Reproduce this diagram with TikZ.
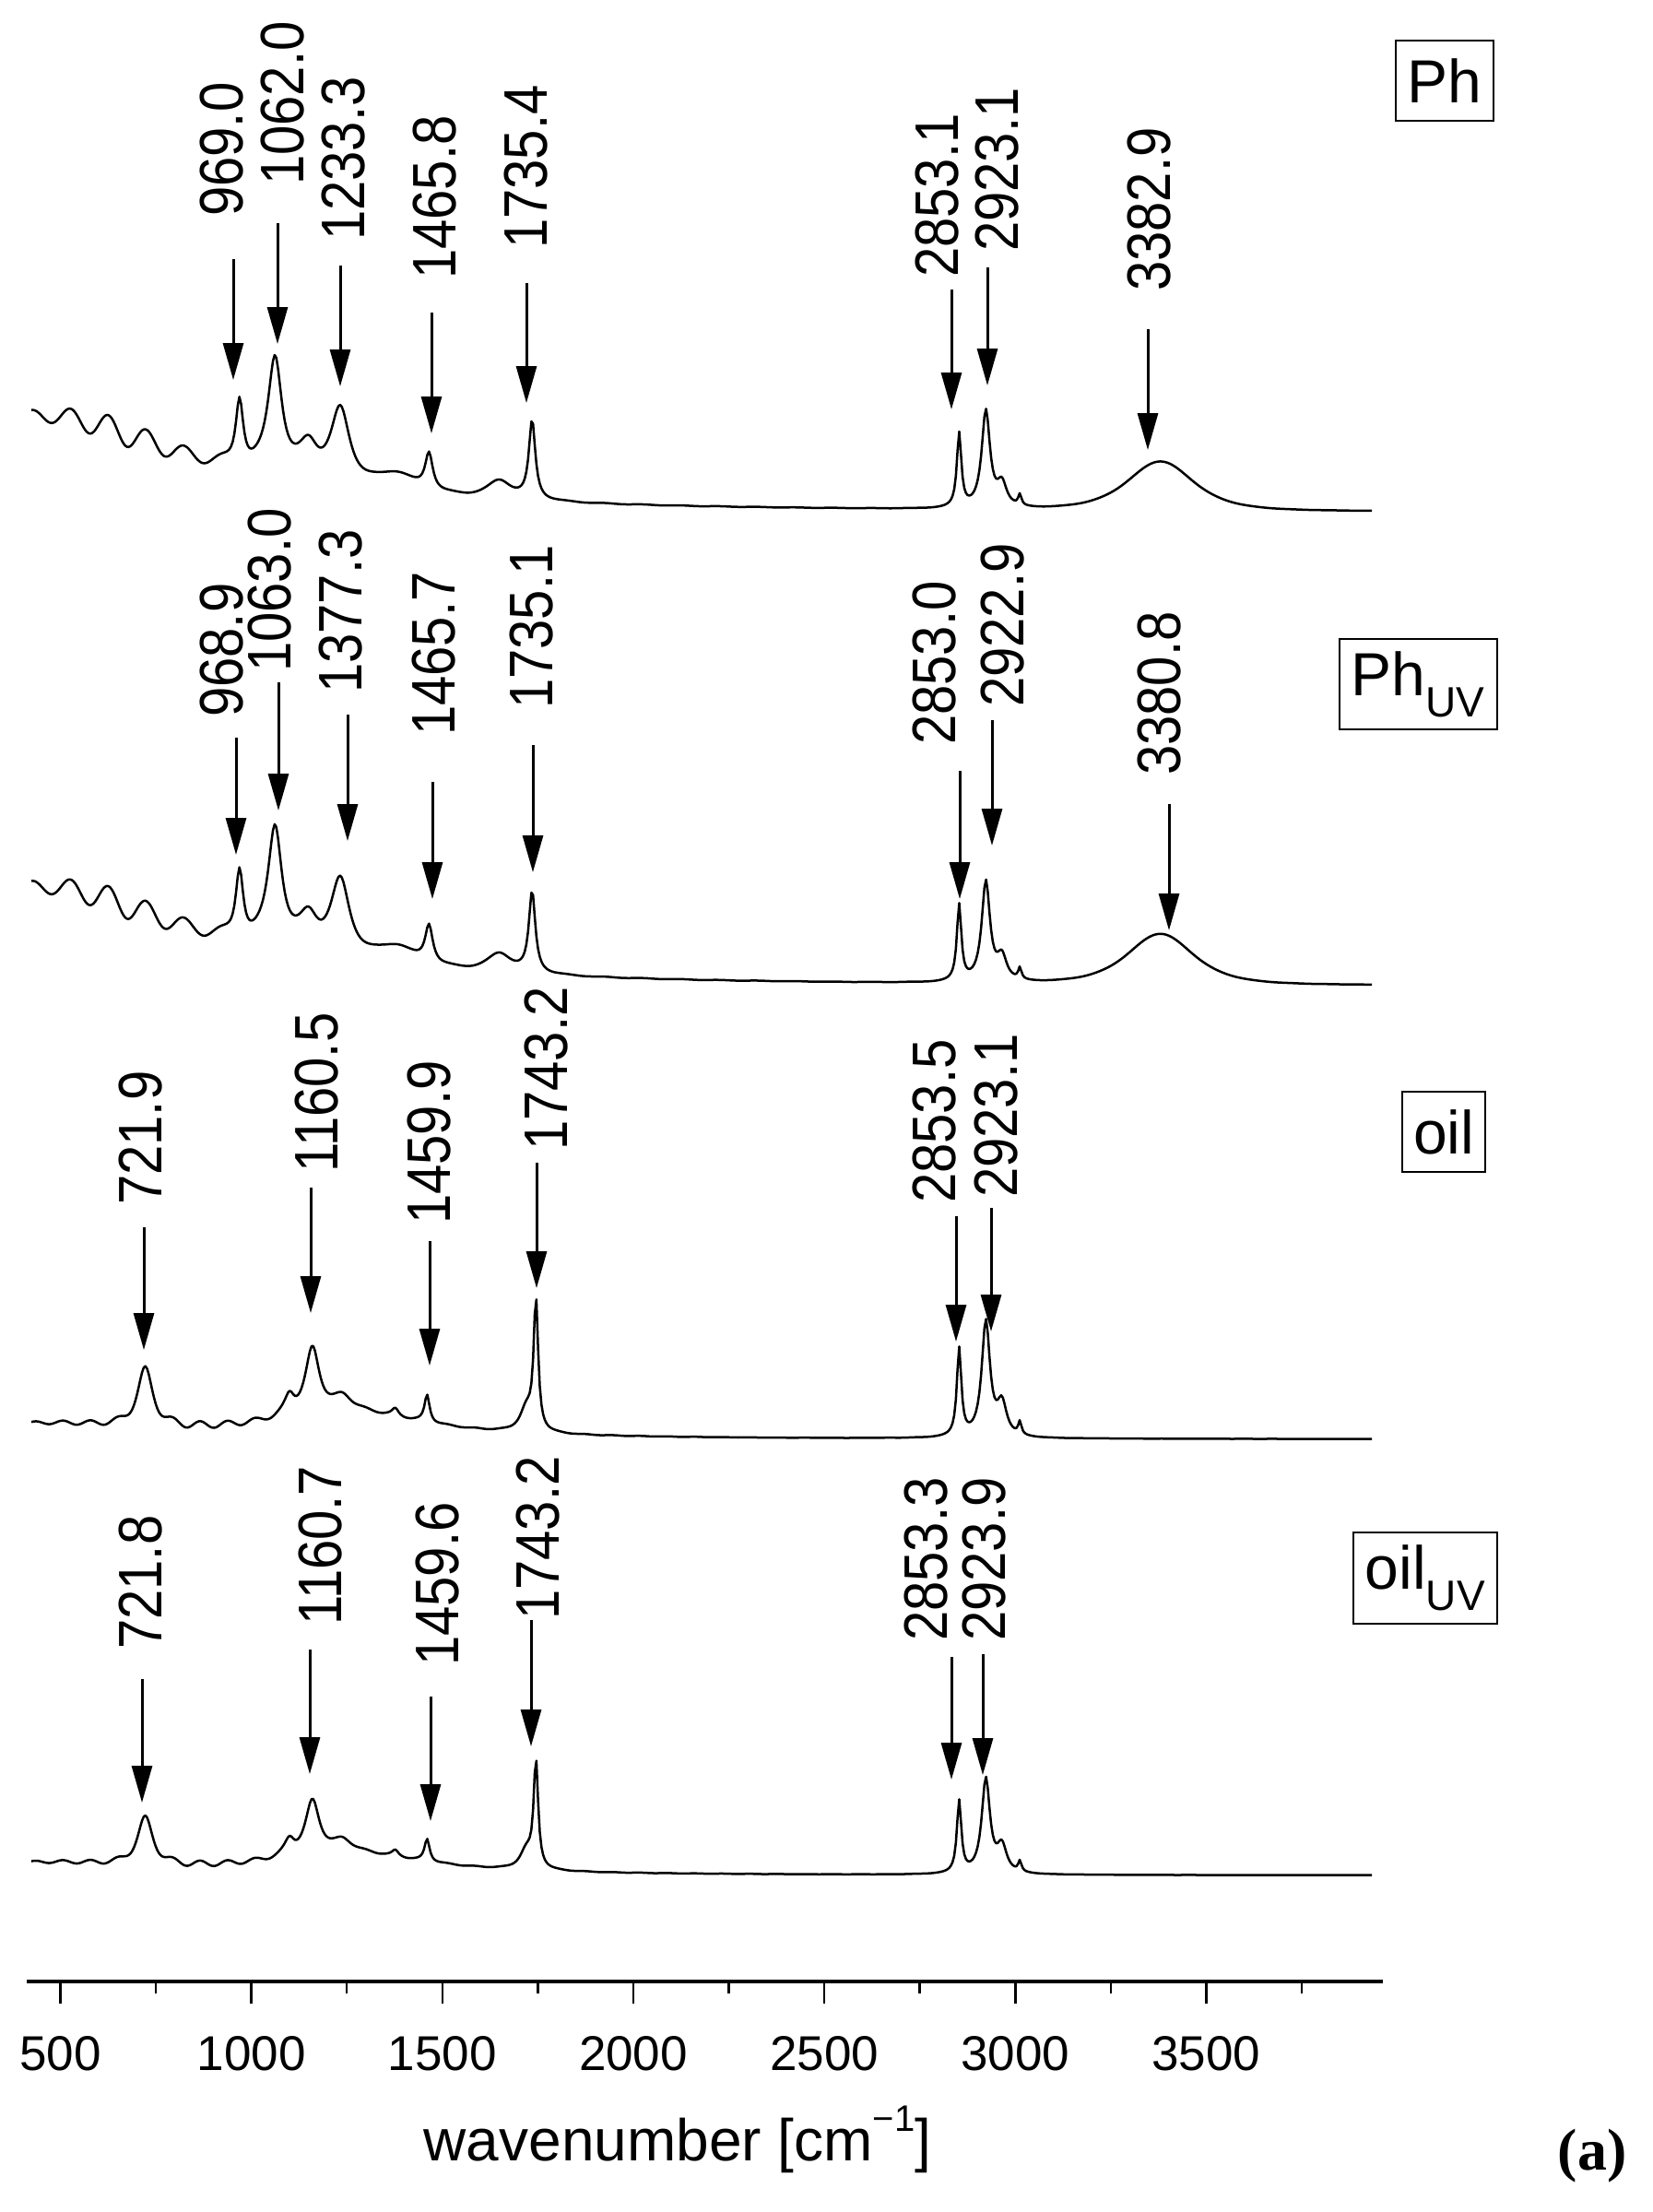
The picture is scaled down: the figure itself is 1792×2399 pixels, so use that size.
\documentclass[tikz,border=0pt]{standalone}
\usepackage{fontspec}
\setmainfont{Liberation Sans}
\newfontfamily\serifbold{Liberation Serif}
\usetikzlibrary{arrows.meta}
\def\PhE{105*20.25/(20.25+(\u-4.5)^2)+14*sin(360*\u)*4/(4+(\u-6.5)^2)+75*0.0144/(0.0144+(\u-9.69)^2)+128*0.0484/(0.0484+(\u-10.62)^2)+35*0.09/(0.09+(\u-11.5)^2)+80*0.09/(0.09+(\u-12.33)^2)+20*0.36/(0.36+(\u-13.8)^2)+40*0.0144/(0.0144+(\u-14.65)^2)+20*0.16/(0.16+(\u-16.5)^2)+85*0.01/(0.01+(\u-17.35)^2)+80*0.0049/(0.0049+(\u-28.53)^2)+105*0.0169/(0.0169+(\u-29.23)^2)+25*0.0225/(0.0225+(\u-29.65)^2)+12*0.0025/(0.0025+(\u-30.12)^2)+53*(2.5/(2.5+(\u-33.8)^2))^2}
\def\OilE{15*9/(9+(\u-4.5)^2)+28*6.25/(6.25+(\u-12.5)^2)+62*0.0625/(0.0625+(\u-7.22)^2)+20*0.0225/(0.0225+(\u-11)^2)+70*0.0484/(0.0484+(\u-11.6)^2)+15*0.09/(0.09+(\u-12.4)^2)+8*0.01/(0.01+(\u-13.77)^2)+30*0.0064/(0.0064+(\u-14.6)^2)+25*0.04/(0.04+(\u-17.2)^2)+140*0.0049/(0.0049+(\u-17.45)^2)+95*0.0049/(0.0049+(\u-28.53)^2)+125*0.0169/(0.0169+(\u-29.23)^2)+35*0.0225/(0.0225+(\u-29.65)^2)+14*0.0025/(0.0025+(\u-30.12)^2)+4*sin(500*(\u-20))*9/(9+(\u-8)^2)}
\tikzset{
  declare function={X(\w)=65.5+(\w-500)*0.4143;},
  spec/.style={line width=2.5pt, line join=round},
  pkarrow/.style={line width=3pt, -{Triangle[length=40pt,width=22pt]}},
  pklabel/.style={rotate=90, anchor=west, inner sep=0pt, font=\fontsize{58}{58}\selectfont},
  boxlabel/.style={draw, line width=2.5pt, inner sep=0pt, font=\fontsize{66}{66}\selectfont},
  ticklabel/.style={font=\fontsize{53}{53}\selectfont, inner sep=0pt},
}
\newcommand{\pk}[1]{\scalebox{1}[1.15]{#1}}
\begin{document}
\begin{tikzpicture}[x=1pt,y=-1pt]
\useasboundingbox (0,0) rectangle (1792,2399);
% spectra
\draw[spec] plot[domain=4.24:39.35, samples=800, variable=\u] ({65.5+(\u-5)*41.43},{556-(\PhE)});
\draw[spec] plot[domain=4.24:39.35, samples=800, variable=\u] ({65.5+(\u-5)*41.43},{1070-1.03*(\PhE)});
\draw[spec] plot[domain=4.24:39.35, samples=800, variable=\u] ({65.5+(\u-5)*41.43},{1561-(\OilE)});
\draw[spec] plot[domain=4.24:39.35, samples=800, variable=\u] ({65.5+(\u-5)*41.43},{2034-0.82*(\OilE)});
% arrows
\foreach \x/\a/\b in {253/281/412,301/242/373,369/288/419,468/339/470,571/307/437,1032/314/444,1071/290/418,1245/357/488,
  256/800/927,302/740/879,377/775/912,469/848/975,578/808/946,1041/836/975,1076/781/917,1268/872/1009,
  156/1331/1464,337/1288/1424,466/1346/1481,582/1261/1397,1037/1319/1455,1075/1310/1444,
  154/1821/1955,336/1789/1924,467/1840/1975,576/1757/1894,1032/1797/1930,1066/1794/1925}
  \draw[pkarrow] (\x,\a) -- (\x,\b);
% labels
\foreach \x/\y/\t [count=\i] in {241/235/969.0,307/201/1062.0,373/261/1233.3,472/303/1465.8,571/270/1735.4,1017/301/2853.1,1082/273/2923.1,1247/316/3382.9,
  241/778/968.9,293/729/1063.0,370/752/1377.3,471/798/1465.7,577/769/1735.1,1014/808/2853.0,1088/767/2922.9,1258/841/3380.8,
  153/1307/721.9,344/1272/1160.5,466/1328/1459.9,593/1248/1743.2,1014/1305/2853.5,1081/1299/2923.1,
  153/1789/721.8,348/1763/1160.7,475/1807/1459.6,584/1757/1743.2,1005/1780/2853.3,1068/1780/2923.9}
  \node[pklabel] (lab\i) at (\x,\y) {\pk{\t}};
% sample boxes
\node[boxlabel, minimum width=106pt, minimum height=87pt] (bPh) at (1567,87.5) {Ph};
\node[boxlabel, minimum width=171pt, minimum height=98pt] (bPhUV) at (1538.5,742) {Ph\textsubscript{\fontsize{46}{46}\selectfont UV}};
\node[boxlabel, minimum width=90pt, minimum height=87pt] (bOil) at (1566,1227.5) {oil};
\node[boxlabel, minimum width=156pt, minimum height=99pt] (bOilUV) at (1546,1711.5) {oil\textsubscript{\fontsize{46}{46}\selectfont UV}};
% axis
\draw[line width=4pt] (29,2149) -- (1500,2149);
\foreach \w in {500,1000,...,3500} {
  \draw[line width=2.5pt] ({X(\w)},2149) -- ({X(\w)},2173);
  \node[ticklabel] (t\w) at ({X(\w)},2227) {\w};
}
\foreach \w in {750,1250,...,3750}
  \draw[line width=2.5pt] ({X(\w)},2149) -- ({X(\w)},2162);
\node[font=\fontsize{64}{64}\selectfont, inner sep=0pt] (xl) at (735,2320) {wavenumber [cm\raisebox{0.5em}{\fontsize{40}{40}\selectfont −1}]};
\node[font=\fontsize{64}{64}\selectfont\serifbold\bfseries, inner sep=0pt] (pa) at (1727,2338) {(a)};
\end{tikzpicture}
\end{document}
